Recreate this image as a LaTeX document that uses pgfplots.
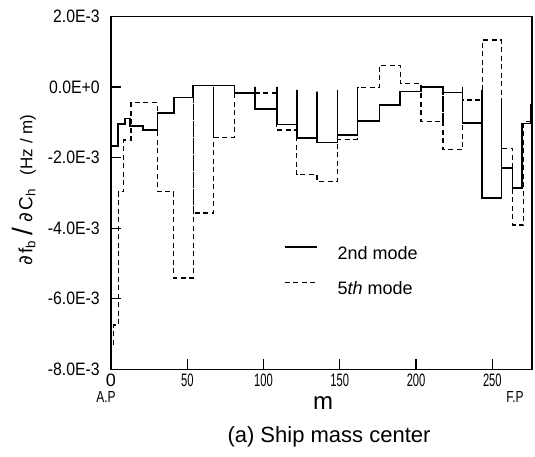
\documentclass[border=0pt]{standalone}
\usepackage{fontspec}
\setmainfont{Liberation Sans}
\newfontfamily\narrowx[FakeStretch=0.62]{Liberation Sans}
\newfontfamily\narrowy[FakeStretch=0.88]{Liberation Sans}
\newfontfamily\narrowap[FakeStretch=0.75]{Liberation Sans}
\newfontfamily\dv{DejaVu Sans}
\usepackage{pgfplots}
\pgfplotsset{compat=1.18}

\begin{document}
\begin{tikzpicture}
\begin{axis}[
  scale only axis, width=421bp, height=353bp,
  xmin=0, xmax=276, ymin=-8, ymax=2,
  axis line style={line width=1.2bp},
  tick align=inside, tick pos=left,
  major tick length=10bp, tick style={line width=1.2bp, black},
  xtick={0,50,100,150,200,250},
  xticklabels={{\rmfamily 0},50,100,150,200,250},
  ytick={-8,-6,...,2},
  yticklabels={-8.0E-3,-6.0E-3,-4.0E-3,-2.0E-3,0.0E+0,2.0E-3},
  xticklabel style={font=\narrowx\fontsize{18bp}{18bp}\selectfont, inner sep=0pt, anchor=north, yshift=-4bp},
  yticklabel style={font=\narrowy\fontsize{18bp}{18bp}\selectfont, inner sep=0pt, anchor=east, xshift=-11bp},
  legend style={draw=none, fill=none, font=\fontsize{18bp}{18bp}\selectfont,
    at={(0.41,0.28)}, anchor=west, row sep=22bp, inner sep=0pt,
    nodes={inner sep=0pt, text height=13bp, text depth=0bp}},
  legend image code/.code={\draw[#1] (0bp,6bp) -- (32bp,6bp); \path (52bp,0bp);},
  legend cell align=left,
]
% 2nd mode
\addplot[const plot, line width=1.7bp, black] coordinates {
  (0,-1.67) (4.4,-1.05) (9.2,-0.89) (12.5,-1.10) (21.2,-1.22) (30.4,-0.73)
  (41.3,-0.30) (53.6,0.04) (81,-0.17) (94.5,0) (94.5,-0.62) (108.7,0)
  (108.7,-1.06) (121.8,-0.08) (121.8,-1.45) (135,-0.13) (135,-1.57)
  (148.5,-0.08) (148.5,-1.36) (161.6,0) (161.6,-0.96) (176,-0.51)
  (189.6,-0.13) (203.2,0) (217.6,-0.16) (230.5,0) (230.5,-1.01)
  (243.3,-0.08) (243.3,-3.14) (256,-0.42) (256,-2.30) (263.3,-2.87)
  (269.5,-1.03) (275,-0.56) (276,-0.56)};
\addlegendentry{2nd mode}
% 5th mode
\addplot[const plot, line width=1.2bp, black, dash pattern=on 5bp off 3.5bp] coordinates {
  (1.5,-7.3) (1.5,-6.74) (4.8,-2.97) (8.4,-1.50) (13.1,-0.45) (30.4,-2.97)
  (41,-5.41) (54,-0.23) (54,-3.57) (67,0) (67,-1.42) (81,-0.17)
  (108.7,-1.22) (121.8,-2.49) (135,-2.68) (148.5,-1.48) (161.6,-0.02)
  (176,0.62) (189.6,0.10) (203.2,-0.98) (217.6,0) (217.6,-1.78)
  (230.5,-0.37) (243.3,1.33) (256,-1.74) (263.3,-3.91) (270.6,-0.98)
  (275,-0.51) (276,-0.51)};
\addlegendentry{5\textit{th} mode}
\end{axis}
\node[rotate=90, font=\fontsize{17bp}{17bp}\selectfont] at (-87bp,179.5bp)
  {{\fontsize{19bp}{19bp}\selectfont{\dv ∂}\hspace{2bp}f\textsubscript{b}\hspace{5bp}{\fontsize{28bp}{28bp}\selectfont /}\hspace{5bp}{\dv ∂}\hspace{2bp}C\textsubscript{h}}\hspace{14bp}(Hz / m)};
\node[font=\narrowap\fontsize{16bp}{16bp}\selectfont] at (-5bp,-27.5bp) {A.P};
\node[font=\narrowap\fontsize{16bp}{16bp}\selectfont] at (404bp,-27.5bp) {F.P};
\node[anchor=base, inner sep=0pt, font=\fontsize{24bp}{24bp}\selectfont] at (212bp,-40.5bp) {m};
\node[anchor=base, inner sep=0pt, font=\fontsize{22bp}{22bp}\selectfont] at (218bp,-73.5bp) {(a) Ship mass center};
\pgfresetboundingbox
\path[use as bounding box] (-111bp,-87.5bp) rectangle (424bp,369.4bp);
\end{tikzpicture}
\end{document}
